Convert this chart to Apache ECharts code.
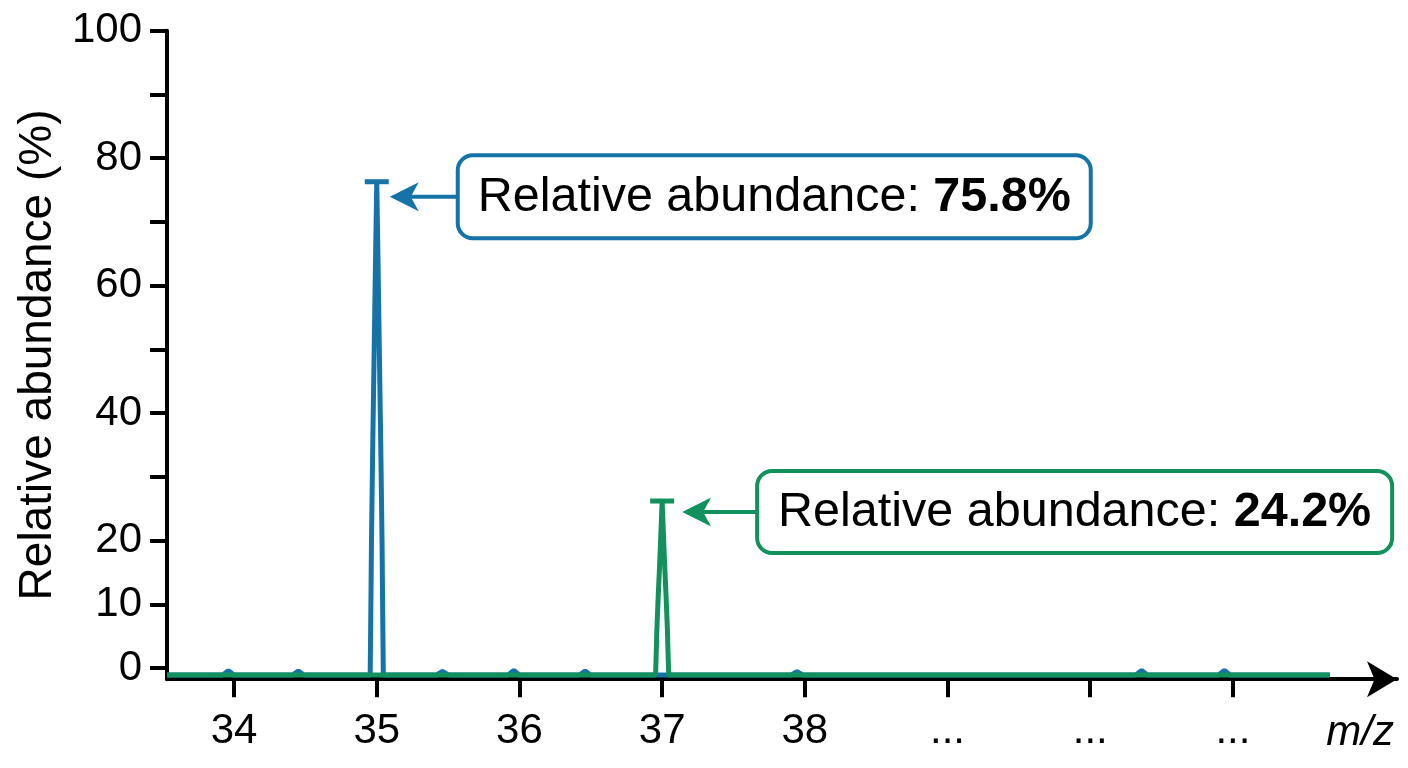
<!DOCTYPE html>
<html>
<head>
<meta charset="utf-8">
<title>Relative abundance</title>
<script src="https://cdn.jsdelivr.net/npm/echarts@6/dist/echarts.min.js"></script>
<style>
  html, body { margin: 0; padding: 0; background: #fff; }
  #main { width: 1408px; height: 768px; }
</style>
</head>
<body>
<div id="main"></div>
<script>
// spectrum traces (m/z, relative abundance %)
const blueMz = [33.53, 33.92, 33.96, 34.00, 34.41, 34.45, 34.49,
  34.954, 34.959, 34.963, 34.972, 34.982, 34.992, 35.0, 35.008, 35.018, 35.028, 35.037, 35.041, 35.046,
  35.42, 35.46, 35.50, 35.92, 35.96, 36.00, 36.42, 36.46, 36.50,
  37.905, 37.945, 37.985, 40.32, 40.36, 40.40, 40.90, 40.94, 40.98, 41.68];
const blueVal = [-1.1, -1.1, -0.45, -1.1, -1.1, -0.5, -1.1,
  -1.1, 10, 20, 35, 50, 65, 76.3, 65, 50, 35, 20, 10, -1.1,
  -1.1, -0.55, -1.1, -1.1, -0.4, -1.1, -1.1, -0.5, -1.1,
  -1.1, -0.6, -1.1, -1.1, -0.4, -1.1, -1.1, -0.4, -1.1, -1.1];
const greenMz = [33.53, 36.954, 36.959, 36.963, 36.972, 36.982, 36.992, 37.0,
  37.008, 37.018, 37.028, 37.037, 37.041, 37.046, 41.68];
const greenVal = [-1.1, -1.1, 2.6, 6, 11, 16, 21.5, 26.2,
  21.5, 16, 11, 6, 2.6, -1.1, -1.1];

// peak tops and their annotations
const peakMz = [35.0, 37.0];
const peakTop = [76.3, 26.2];
const abundance = ['75.8%', '24.2%'];

// axes
const xTicks = [34, 35, 36, 37, 38, 39, 40, 41];
const xTickText = ['34', '35', '36', '37', '38', '...', '...', '...'];
const yTicks = [0, 10, 20, 30, 40, 50, 60, 70, 80, 90, 100];
const yLabels = [0, 10, 20, 40, 60, 80, 100];

const BLUE = '#1573a8';
const GREEN = '#12915c';
const FONT = 'Liberation Sans, Arial, Helvetica, sans-serif';

function pairs(xs, ys) {
  return xs.map((x, i) => [x, ys[i]]);
}

const chart = echarts.init(document.getElementById('main'));

chart.setOption({
  animation: false,
  backgroundColor: '#fff',
  grid: { left: 167, right: 11, top: 30.7, bottom: 88.8 },
  xAxis: {
    type: 'value',
    min: 33.53,
    max: 42.15,
    axisLine: {
      show: true,
      onZero: false,
      symbol: ['none', 'arrow'],
      symbolSize: [27, 30],
      lineStyle: { color: '#000', width: 4 }
    },
    axisTick: {
      show: true,
      customValues: xTicks,
      length: 18,
      lineStyle: { color: '#000', width: 4 }
    },
    axisLabel: {
      customValues: xTicks,
      formatter: v => xTickText[xTicks.indexOf(v)] || '',
      margin: 31,
      color: '#000',
      fontSize: 42,
      fontFamily: FONT
    },
    splitLine: { show: false }
  },
  yAxis: {
    type: 'value',
    min: -1.76,
    max: 100,
    name: 'Relative abundance (%)',
    nameLocation: 'middle',
    nameGap: 106,
    nameTextStyle: { color: '#000', fontSize: 46, fontFamily: FONT },
    axisLine: { show: true, onZero: false, lineStyle: { color: '#000', width: 4 } },
    axisTick: {
      show: true,
      customValues: yTicks,
      length: 17,
      lineStyle: { color: '#000', width: 4 }
    },
    axisLabel: {
      customValues: yLabels,
      margin: 25,
      color: '#000',
      fontSize: 42,
      fontFamily: FONT
    },
    splitLine: { show: false }
  },
  series: [
    {
      type: 'line',
      data: pairs(blueMz, blueVal),
      symbol: 'none',
      lineStyle: { color: BLUE, width: 5 },
      z: 3
    },
    {
      type: 'line',
      data: pairs(greenMz, greenVal),
      symbol: 'none',
      lineStyle: { color: GREEN, width: 5 },
      z: 4
    },
    {
      // the T caps on the peak tops
      type: 'scatter',
      data: peakMz.map((x, i) => ({
        value: [x, peakTop[i]],
        itemStyle: { color: i === 0 ? BLUE : GREEN, opacity: 1 }
      })),
      symbol: 'rect',
      symbolSize: [24, 5],
      z: 5
    }
  ]
});

// annotation boxes, placed relative to the peak tops
const annLayout = [
  { dx: 13, dy: 15, gap: 68, w: 633, h: 83, color: BLUE },
  { dx: 20, dy: 11, gap: 75, w: 635, h: 82, color: GREEN }
];

const graphics = [];
peakMz.forEach((x, i) => {
  const p = chart.convertToPixel({ gridIndex: 0 }, [x, peakTop[i]]);
  const L = annLayout[i];
  const tx = p[0] + L.dx, ty = p[1] + L.dy;
  const bx = tx + L.gap, by = ty - L.h / 2;
  graphics.push({
    type: 'line',
    shape: { x1: tx + 20, y1: ty, x2: bx, y2: ty },
    style: { stroke: L.color, lineWidth: 4 },
    z: 10
  });
  graphics.push({
    type: 'polygon',
    shape: { points: [[tx, ty], [tx + 29, ty - 14.5], [tx + 21, ty], [tx + 29, ty + 14.5]] },
    style: { fill: L.color },
    z: 10
  });
  graphics.push({
    type: 'rect',
    shape: { x: bx, y: by, width: L.w, height: L.h, r: 15 },
    style: { fill: '#fff', stroke: L.color, lineWidth: 4 },
    z: 10
  });
  graphics.push({
    type: 'text',
    x: bx + L.w / 2,
    y: ty + 1,
    style: {
      text: '{n|Relative abundance: }{b|' + abundance[i] + '}',
      align: 'center',
      verticalAlign: 'middle',
      rich: {
        n: { fontSize: 48.5, fontFamily: FONT, fill: '#000' },
        b: { fontSize: 48.5, fontFamily: FONT, fontWeight: 'bold', fill: '#000' }
      }
    },
    z: 11
  });
});

// x axis name
graphics.push({
  type: 'text',
  x: 1394,
  y: 754,
  style: {
    text: 'm/z',
    align: 'right',
    verticalAlign: 'bottom',
    fontSize: 42,
    fontStyle: 'italic',
    fontFamily: FONT,
    fill: '#000'
  },
  z: 10
});

chart.setOption({ graphic: graphics });
</script>
</body>
</html>
